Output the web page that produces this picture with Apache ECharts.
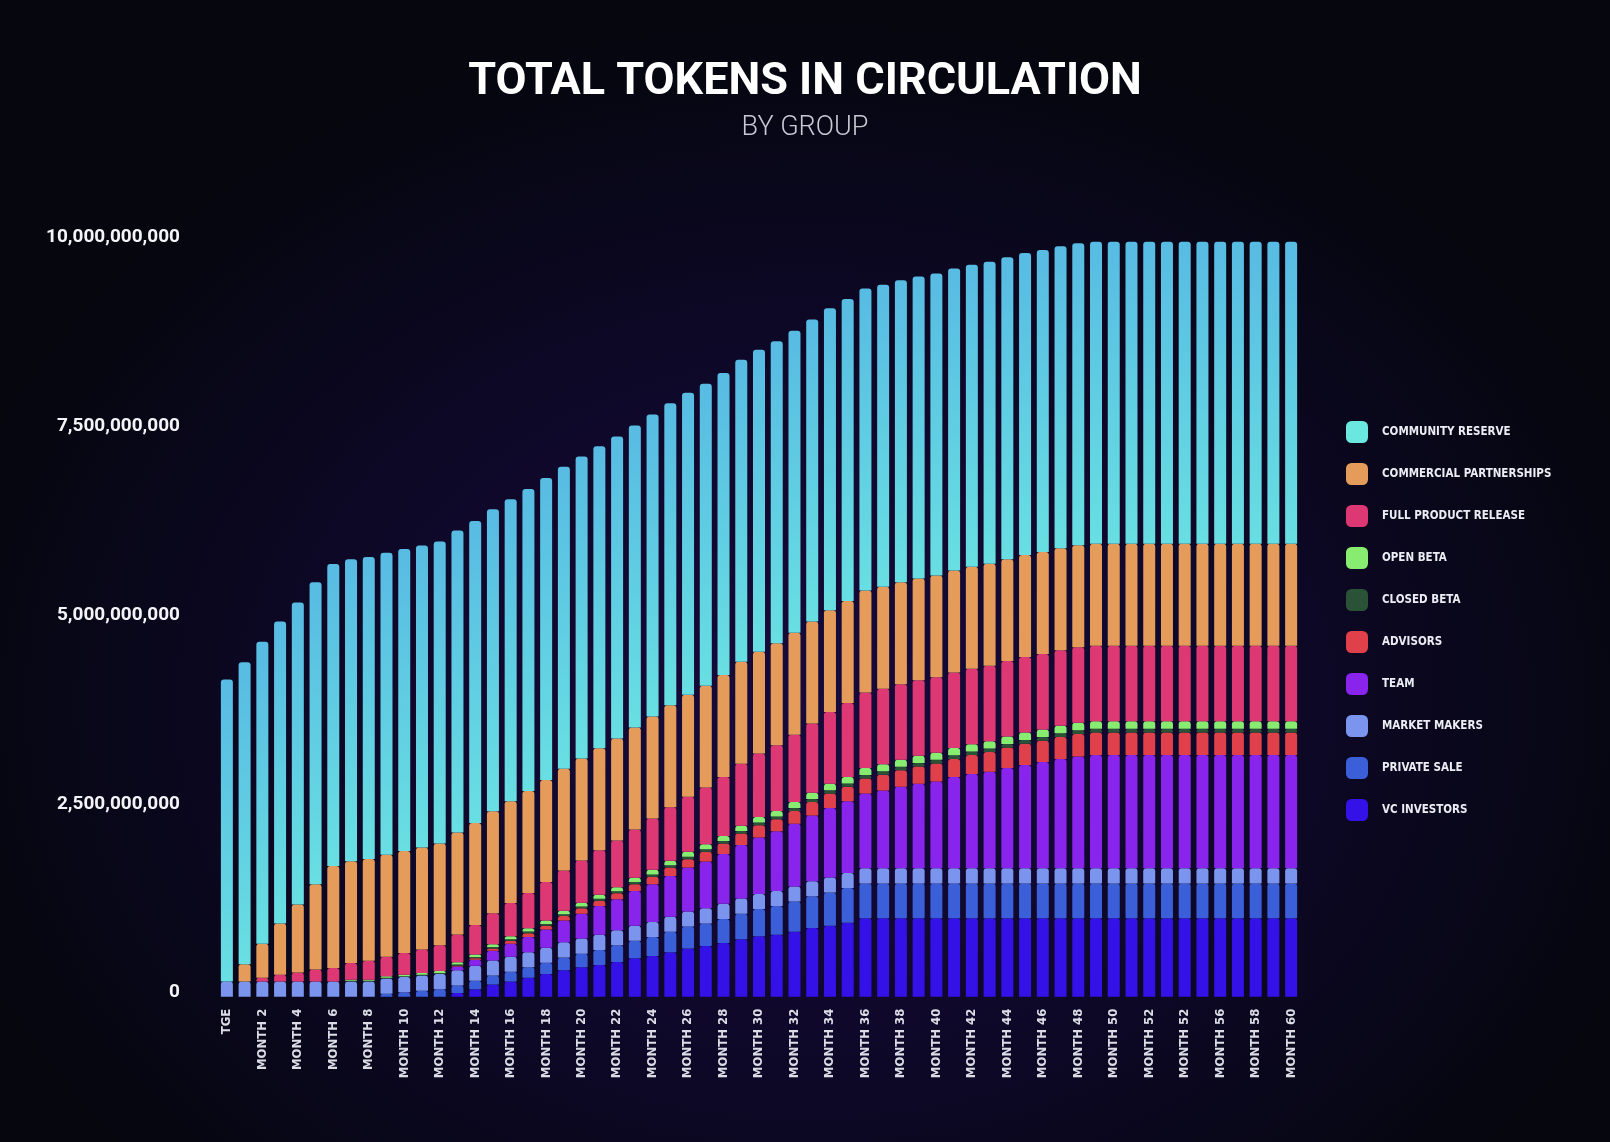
<!DOCTYPE html>
<html>
<head>
    <meta charset="utf-8" />
    <title>Total Tokens in Circulation</title>
    <script src="https://cdn.jsdelivr.net/npm/echarts@6/dist/echarts.min.js"></script>
    <style>
        html, body {
            margin: 0;
            padding: 0;
            width: 100%;
            height: 100%;
            overflow: hidden;
            background: radial-gradient(ellipse 55% 60% at 50% 62%, #170a3c 0%, #0e0829 50%, #05060e 100%);
        }
        #chart { width: 1610px; height: 1142px; }
    </style>
</head>
<body>
<div id="chart"></div>
<script>
    // x axis labels (the original repeats "MONTH 52" where 54 should be)
    var months = [
        'TGE', 'MONTH 1', 'MONTH 2', 'MONTH 3', 'MONTH 4', 'MONTH 5', 'MONTH 6', 'MONTH 7', 'MONTH 8', 'MONTH 9',
        'MONTH 10', 'MONTH 11', 'MONTH 12', 'MONTH 13', 'MONTH 14', 'MONTH 15', 'MONTH 16', 'MONTH 17', 'MONTH 18', 'MONTH 19',
        'MONTH 20', 'MONTH 21', 'MONTH 22', 'MONTH 23', 'MONTH 24', 'MONTH 25', 'MONTH 26', 'MONTH 27', 'MONTH 28', 'MONTH 29',
        'MONTH 30', 'MONTH 31', 'MONTH 32', 'MONTH 33', 'MONTH 34', 'MONTH 35', 'MONTH 36', 'MONTH 37', 'MONTH 38', 'MONTH 39',
        'MONTH 40', 'MONTH 41', 'MONTH 42', 'MONTH 43', 'MONTH 44', 'MONTH 45', 'MONTH 46', 'MONTH 47', 'MONTH 48', 'MONTH 49',
        'MONTH 50', 'MONTH 51', 'MONTH 52', 'MONTH 53', 'MONTH 52', 'MONTH 55', 'MONTH 56', 'MONTH 57', 'MONTH 58', 'MONTH 59',
        'MONTH 60'
    ];

    // y axis ticks, in billions of tokens
    var yTicks = [0, 2.5, 5, 7.5, 10];

    // token amounts per group, in billions, TGE .. month 60
    var vcInvestors = [
        0, 0, 0, 0, 0, 0, 0, 0, 0, 0, 0, 0, 0,
        0.05, 0.10, 0.16, 0.20, 0.25, 0.30, 0.35, 0.39, 0.42, 0.46, 0.51, 0.54,
        0.59, 0.64, 0.67, 0.71, 0.76, 0.80, 0.82, 0.86, 0.91, 0.94, 0.98,
        1.04, 1.04, 1.04, 1.04, 1.04, 1.04, 1.04, 1.04, 1.04, 1.04, 1.04, 1.04, 1.04,
        1.04, 1.04, 1.04, 1.04, 1.04, 1.04, 1.04, 1.04, 1.04, 1.04, 1.04, 1.04
    ];
    var privateSale = [
        0, 0, 0, 0, 0, 0, 0, 0, 0,
        0.04, 0.06, 0.08, 0.10, 0.10, 0.11, 0.12, 0.13, 0.14, 0.15, 0.17, 0.18, 0.20, 0.22,
        0.23, 0.25, 0.27, 0.29, 0.30, 0.32, 0.34, 0.36, 0.38, 0.40, 0.42, 0.44, 0.46,
        0.46, 0.46, 0.46, 0.46, 0.46, 0.46, 0.46, 0.46, 0.46, 0.46, 0.46, 0.46, 0.46,
        0.46, 0.46, 0.46, 0.46, 0.46, 0.46, 0.46, 0.46, 0.46, 0.46, 0.46, 0.46
    ];
    var marketMakers = [
        0.2, 0.2, 0.2, 0.2, 0.2, 0.2, 0.2, 0.2, 0.2, 0.2, 0.2, 0.2, 0.2, 0.2, 0.2, 0.2,
        0.2, 0.2, 0.2, 0.2, 0.2, 0.2, 0.2, 0.2, 0.2, 0.2, 0.2, 0.2, 0.2, 0.2, 0.2, 0.2,
        0.2, 0.2, 0.2, 0.2, 0.2, 0.2, 0.2, 0.2, 0.2, 0.2, 0.2, 0.2, 0.2, 0.2, 0.2, 0.2,
        0.2, 0.2, 0.2, 0.2, 0.2, 0.2, 0.2, 0.2, 0.2, 0.2, 0.2, 0.2, 0.2
    ];
    var team = [
        0, 0, 0, 0, 0, 0, 0, 0, 0, 0, 0, 0, 0,
        0.05, 0.08, 0.13, 0.17, 0.20, 0.24, 0.29, 0.33, 0.38, 0.41, 0.46, 0.50,
        0.54, 0.58, 0.62, 0.66, 0.71, 0.75, 0.79, 0.83, 0.87, 0.92, 0.95, 0.99,
        1.03, 1.08, 1.12, 1.15, 1.21, 1.25, 1.28, 1.33, 1.37, 1.41, 1.45, 1.48,
        1.50, 1.50, 1.50, 1.50, 1.50, 1.50, 1.50, 1.50, 1.50, 1.50, 1.50, 1.50
    ];
    var advisors = [
        0, 0, 0, 0, 0, 0, 0, 0, 0, 0, 0, 0, 0,
        0.01, 0.02, 0.03, 0.04, 0.05, 0.05, 0.06, 0.07, 0.07, 0.08, 0.09, 0.10,
        0.11, 0.11, 0.13, 0.14, 0.15, 0.16, 0.16, 0.17, 0.18, 0.19, 0.19, 0.20,
        0.21, 0.22, 0.23, 0.24, 0.24, 0.25, 0.26, 0.27, 0.28, 0.28, 0.29, 0.30,
        0.30, 0.30, 0.30, 0.30, 0.30, 0.30, 0.30, 0.30, 0.30, 0.30, 0.30, 0.30
    ];
    var closedBeta = [
        0, 0, 0, 0, 0, 0, 0,
        0.010, 0.010, 0.010, 0.010, 0.012, 0.013, 0.015, 0.017, 0.018, 0.020, 0.022, 0.023,
        0.023, 0.025, 0.027, 0.027, 0.028, 0.030, 0.030, 0.033, 0.033, 0.033, 0.035, 0.037,
        0.037, 0.040, 0.040, 0.043, 0.043, 0.047, 0.047, 0.047, 0.047, 0.047, 0.048, 0.048,
        0.048, 0.048,
        0.05, 0.05, 0.05, 0.05, 0.05, 0.05, 0.05, 0.05, 0.05, 0.05, 0.05, 0.05, 0.05, 0.05, 0.05, 0.05
    ];
    var openBeta = [
        0, 0, 0, 0, 0, 0, 0,
        0.015, 0.015, 0.020, 0.020, 0.023, 0.027, 0.030, 0.033, 0.037, 0.040, 0.043, 0.047,
        0.047, 0.050, 0.053, 0.053, 0.057, 0.060, 0.060, 0.067, 0.067, 0.067, 0.070, 0.073,
        0.073, 0.080, 0.080, 0.087, 0.087, 0.093, 0.093, 0.093, 0.093, 0.093, 0.097, 0.097,
        0.097, 0.097,
        0.10, 0.10, 0.10, 0.10, 0.10, 0.10, 0.10, 0.10, 0.10, 0.10, 0.10, 0.10, 0.10, 0.10, 0.10, 0.10
    ];
    var fullProductRelease = [
        0, 0,
        0.05, 0.09, 0.12, 0.16, 0.18, 0.22, 0.25, 0.26, 0.29, 0.31, 0.34, 0.37,
        0.39, 0.41, 0.44, 0.47, 0.51, 0.53, 0.56, 0.59, 0.62, 0.64, 0.68, 0.71,
        0.73, 0.75, 0.78, 0.82, 0.84, 0.87, 0.89, 0.92, 0.95, 0.98,
        1.00, 1.00, 1.00, 1.00, 1.00, 1.00, 1.00, 1.00, 1.00, 1.00, 1.00, 1.00, 1.00,
        1.00, 1.00, 1.00, 1.00, 1.00, 1.00, 1.00, 1.00, 1.00, 1.00, 1.00, 1.00
    ];
    var commercialPartnerships = [
        0, 0.23, 0.45, 0.68, 0.90, 1.13,
        1.35, 1.35, 1.35, 1.35, 1.35, 1.35, 1.35, 1.35, 1.35, 1.35, 1.35, 1.35, 1.35, 1.35,
        1.35, 1.35, 1.35, 1.35, 1.35, 1.35, 1.35, 1.35, 1.35, 1.35, 1.35, 1.35, 1.35, 1.35,
        1.35, 1.35, 1.35, 1.35, 1.35, 1.35, 1.35, 1.35, 1.35, 1.35, 1.35, 1.35, 1.35, 1.35,
        1.35, 1.35, 1.35, 1.35, 1.35, 1.35, 1.35, 1.35, 1.35, 1.35, 1.35, 1.35, 1.35
    ];
    var communityReserve = [
        4.0, 4.0, 4.0, 4.0, 4.0, 4.0, 4.0, 4.0, 4.0, 4.0, 4.0, 4.0, 4.0, 4.0, 4.0, 4.0,
        4.0, 4.0, 4.0, 4.0, 4.0, 4.0, 4.0, 4.0, 4.0, 4.0, 4.0, 4.0, 4.0, 4.0, 4.0, 4.0,
        4.0, 4.0, 4.0, 4.0, 4.0, 4.0, 4.0, 4.0, 4.0, 4.0, 4.0, 4.0, 4.0, 4.0, 4.0, 4.0,
        4.0, 4.0, 4.0, 4.0, 4.0, 4.0, 4.0, 4.0, 4.0, 4.0, 4.0, 4.0, 4.0
    ];

    // groups bottom -> top of the stack
    var groups = [
        {name: 'VC INVESTORS', data: vcInvestors, color: '#3411e6'},
        {name: 'PRIVATE SALE', data: privateSale, color: '#3a5fd8'},
        {name: 'MARKET MAKERS', data: marketMakers, color: '#7b95ef'},
        {name: 'TEAM', data: team, color: '#8824ec'},
        {name: 'ADVISORS', data: advisors, color: '#e0404a'},
        {name: 'CLOSED BETA', data: closedBeta, color: '#2a5236'},
        {name: 'OPEN BETA', data: openBeta, color: '#88ec70'},
        {name: 'FULL PRODUCT RELEASE', data: fullProductRelease, color: '#de3874'},
        {name: 'COMMERCIAL PARTNERSHIPS', data: commercialPartnerships, color: '#e59c5b'},
        {name: 'COMMUNITY RESERVE', data: communityReserve, color: '#6ae8df'}
    ];

    var condensed = '"DejaVu Sans Condensed", "DejaVu Sans", sans-serif';

    var myChart = echarts.init(document.getElementById('chart'));

    var series = groups.map(function (g, i) {
        var color = g.color;
        if (i === groups.length - 1) {
            // community reserve bars fade from blue at the top to cyan
            color = new echarts.graphic.LinearGradient(0, 0, 0, 1, [
                {offset: 0, color: '#58bbe3'},
                {offset: 1, color: '#68dfe2'}
            ]);
        }
        return {
            name: g.name,
            type: 'bar',
            stack: 'total',
            barWidth: 12,
            data: g.data,
            itemStyle: {color: color, borderWidth: 0, borderRadius: [3, 3, 0, 0]},
            emphasis: {disabled: true}
        };
    });

    // legend lists the groups top -> bottom, with flat swatches
    var legendData = groups.slice().reverse().map(function (g) {
        return {name: g.name, itemStyle: {color: g.color, borderWidth: 0}};
    });

    var option = {
        backgroundColor: 'transparent',
        animation: false,
        title: [
            {
                text: 'TOTAL TOKENS IN CIRCULATION',
                left: 'center',
                top: 55,
                textStyle: {color: '#ffffff', fontSize: 45, fontWeight: 'bold', fontFamily: 'Roboto'}
            },
            {
                text: 'BY GROUP',
                left: 'center',
                top: 110,
                textStyle: {color: '#c9c9d3', fontSize: 27, fontWeight: 300, fontFamily: 'Roboto'}
            }
        ],
        legend: {
            orient: 'vertical',
            left: 1341,
            top: 416,
            itemWidth: 22,
            itemHeight: 22,
            itemGap: 20,
            icon: 'roundRect',
            selectedMode: false,
            data: legendData,
            textStyle: {
                color: '#ececf4',
                fontSize: 11.5,
                fontWeight: 'bold',
                fontFamily: condensed,
                padding: [0, 0, 0, 9]
            }
        },
        grid: {
            left: 218,
            right: 310,
            top: 241.7,
            bottom: 145.3,
            containLabel: false,
            outerBoundsMode: 'none'
        },
        xAxis: {
            type: 'category',
            data: months,
            axisLine: {show: false},
            axisTick: {show: false},
            axisLabel: {
                interval: 1,
                rotate: 90,
                margin: 12,
                color: '#dcdce6',
                fontSize: 13,
                fontWeight: 'bold',
                fontFamily: condensed
            }
        },
        yAxis: {
            type: 'value',
            min: yTicks[0],
            max: yTicks[yTicks.length - 1],
            interval: yTicks[1] - yTicks[0],
            splitLine: {show: false},
            axisLine: {show: false},
            axisTick: {show: false},
            axisLabel: {
                margin: 38,
                color: '#f4f4f8',
                fontSize: 19,
                fontWeight: 'bold',
                fontFamily: 'Roboto',
                verticalAlign: 'bottom',
                lineHeight: 8,
                formatter: function (v) {
                    return String(Math.round(v * 1e9)).replace(/\B(?=(\d{3})+(?!\d))/g, ',');
                }
            }
        },
        series: series
    };

    myChart.setOption(option);
</script>
</body>
</html>
